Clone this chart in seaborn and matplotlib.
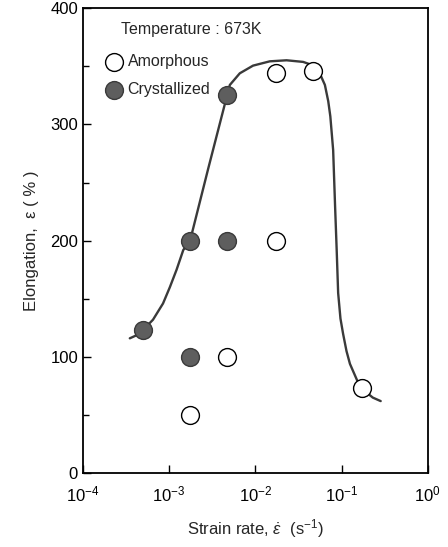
import numpy as np
import pandas as pd
import matplotlib
matplotlib.use("Agg")
import matplotlib.pyplot as plt
from matplotlib.ticker import FixedLocator, NullLocator
import seaborn as sns

# measured points
amorph_rate = [1.75e-3, 4.7e-3, 1.72e-2, 1.72e-2, 4.6e-2, 0.171]
amorph_elong = [50, 100, 200, 344, 346, 73]
cryst_rate = [5.0e-4, 1.75e-3, 1.75e-3, 4.7e-3, 4.7e-3]
cryst_elong = [123, 100, 200, 200, 325]

# guide curve
curve_rate = [3.5e-4, 4.3e-4, 5.1e-4, 6.5e-4, 8.5e-4, 1.02e-3, 1.22e-3, 1.46e-3,
              1.75e-3, 2.84e-3, 4.7e-3, 5.06e-3, 6.6e-3, 9.4e-3, 1.47e-2,
              2.3e-2, 3.58e-2, 4.6e-2, 5.35e-2, 6.4e-2, 7.0e-2, 7.4e-2,
              7.98e-2, 8.4e-2, 8.77e-2, 9.12e-2, 9.7e-2, 0.104, 0.114, 0.125,
              0.151, 0.19, 0.23, 0.284]
curve_elong = [116, 119, 124, 132, 146, 160, 175, 192,
               200, 262, 325, 334, 344, 350.6, 354.3,
               355.2, 353.8, 351, 347, 334, 320, 307,
               278, 230, 192, 155, 133, 120, 105, 94,
               80, 70, 65, 62]

sns.set_style("ticks")
plt.rcParams["font.family"] = ["Liberation Sans", "DejaVu Sans"]
plt.rcParams["mathtext.fontset"] = "custom"
plt.rcParams["mathtext.rm"] = "Liberation Sans"
plt.rcParams["mathtext.it"] = "Liberation Sans:italic"

fig = plt.figure(figsize=(4.48, 5.47), dpi=100)
ax = fig.add_axes([0.185, 0.135, 0.77, 0.85])

curve = pd.DataFrame({"rate": curve_rate, "elong": curve_elong})
sns.lineplot(data=curve, x="rate", y="elong", sort=False, color="#3a3a3a",
             linewidth=1.7, ax=ax, zorder=1)

sns.scatterplot(x=amorph_rate, y=amorph_elong, s=165, color="white",
                edgecolor="black", linewidth=1.0, ax=ax, zorder=3)
sns.scatterplot(x=cryst_rate, y=cryst_elong, s=165, color="#5e5e5e",
                edgecolor="#3a3a3a", linewidth=1.0, ax=ax, zorder=3)

ax.set_xscale("log")
ax.set_xlim(1e-4, 1)
ax.set_ylim(0, 400)
ax.xaxis.set_major_locator(FixedLocator([1e-4, 1e-3, 1e-2, 1e-1, 1]))
ax.xaxis.set_minor_locator(NullLocator())
ax.set_xticklabels([r"$10^{-4}$", r"$10^{-3}$", r"$10^{-2}$", r"$10^{-1}$", r"$10^{0}$"])
ax.set_yticks([0, 100, 200, 300, 400])
ax.yaxis.set_minor_locator(FixedLocator([50, 150, 250, 350]))
ax.tick_params(axis="both", which="both", direction="in", labelsize=12, colors="black")
ax.tick_params(axis="both", which="major", length=6, width=1)
ax.tick_params(axis="y", which="minor", length=4, width=1)
ax.tick_params(axis="x", pad=8)
for s in ax.spines.values():
    s.set_visible(True)
    s.set_linewidth(1.3)
    s.set_color("black")

ax.set_xlabel(r"Strain rate, $\dot{\varepsilon}$  (s$^{-1}$)", fontsize=12, labelpad=9)
ax.set_ylabel(r"Elongation,  ε ( % )", fontsize=12, labelpad=8)

ax.text(0.11, 0.955, "Temperature : 673K", transform=ax.transAxes, fontsize=11.5,
        ha="left", va="center")
ax.scatter([0.09], [0.885], transform=ax.transAxes, s=165, color="white",
           edgecolor="black", linewidth=1.0, zorder=3)
ax.text(0.13, 0.885, "Amorphous", transform=ax.transAxes, fontsize=11.5,
        ha="left", va="center")
ax.scatter([0.09], [0.825], transform=ax.transAxes, s=165, color="#5e5e5e",
           edgecolor="#3a3a3a", linewidth=1.0, zorder=3)
ax.text(0.13, 0.825, "Crystallized", transform=ax.transAxes, fontsize=11.5,
        ha="left", va="center")

fig.savefig("out.png", dpi=100)
